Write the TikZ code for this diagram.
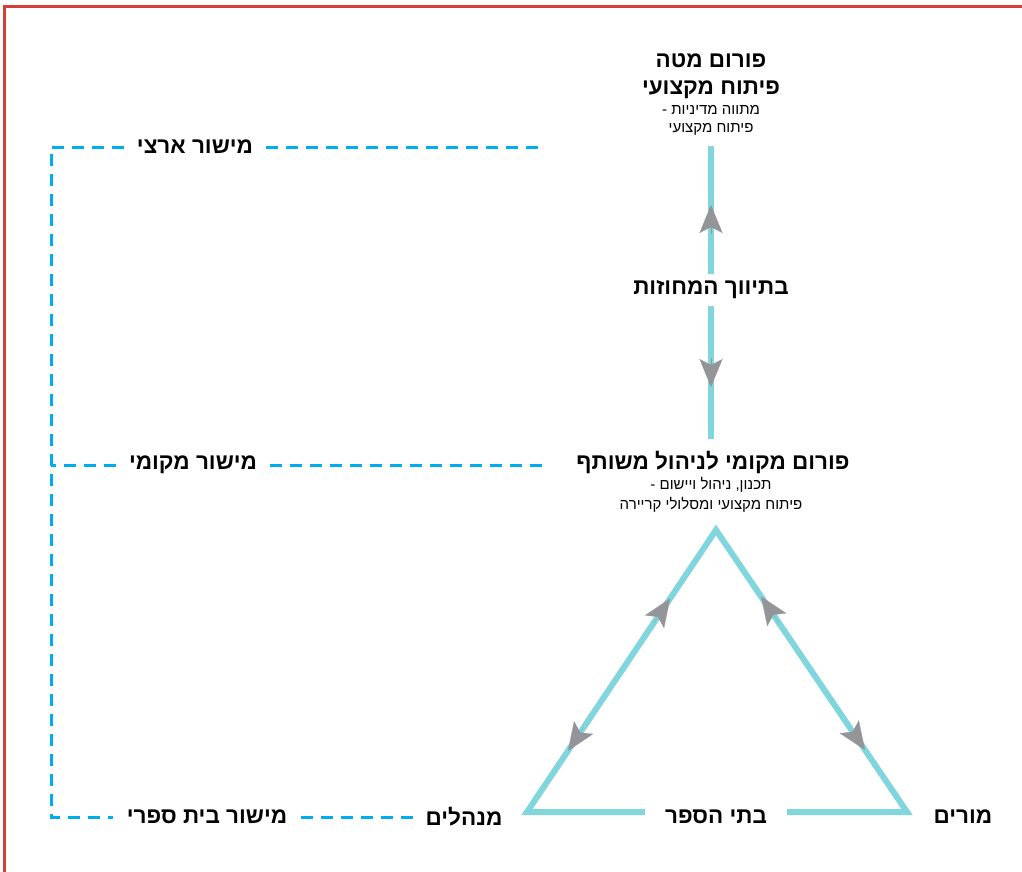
\documentclass[tikz,border=0pt]{standalone}
\usepackage{fontspec}
\newfontfamily\heb[Script=Hebrew]{Liberation Sans}
\TeXXeTstate=1
\usetikzlibrary{arrows.meta,calc}
\definecolor{framered}{RGB}{214,62,54}
\definecolor{tealline}{RGB}{128,214,220}
\definecolor{arrowgray}{RGB}{147,149,152}
\definecolor{dashblue}{RGB}{0,174,239}
\newcommand\heR[1]{\beginR #1\endR}
\begin{document}
\begin{tikzpicture}[x=1pt,y=-1pt,
  big/.style={font=\heb\bfseries\fontsize{22.5}{27}\selectfont, inner sep=0pt, align=center},
  small/.style={font=\heb\fontsize{15}{18}\selectfont, inner sep=0pt, align=center},
  tline/.style={draw=tealline, line width=6pt},
  dline/.style={draw=dashblue, line width=3pt, dash pattern=on 12pt off 8pt},
  gtip/.style={arrowgray, line width=0.2pt, -{Stealth[length=28pt,width=23pt,inset=6pt]}},
]
\useasboundingbox (0,0) rectangle (1022,872);
\fill[white] (0,0) rectangle (1022,872);
\draw[framered, line width=3pt] (4,873) -- (4,7) -- (1023,7);

% top forum
\node[big] (staffT) at (711,76) {\heR{פורום מטה}\\\heR{פיתוח מקצועי}};
\node[small] (staffS) at (711,120) {\heR{מתווה מדיניות -}\\\heR{פיתוח מקצועי}};
\node[big, inner ysep=7pt] (district) at (711,290) {\heR{בתיווך המחוזות}};
\node[big] (local) at (713,462) {\heR{פורום מקומי לניהול משותף}};
\node[small, font=\heb\fontsize{15}{20}\selectfont] (localS) at (711,495) {\heR{תכנון, ניהול ויישום -}\\\heR{פיתוח מקצועי ומסלולי קריירה}};

% vertical connector
\draw[tline, shorten <=11pt] (staffS.south) -- (district.north);
\draw[tline, shorten >=12pt] (district.south) -- (district.south |- local.north);
\draw[gtip] (711,234) -- (711,205);
\draw[gtip] (711,358) -- (711,387);

% triangle
\coordinate (A) at (716,530);
\coordinate (BL) at (527,812);
\coordinate (BR) at (907,812);
\node[big, inner xsep=20pt] (schools) at (716,817) {\heR{בתי הספר}};
\node[big] (principals) at (464,817) {\heR{מנהלים}};
\node[big] (teachers) at (963,817) {\heR{מורים}};
\draw[tline, line join=miter] (BL -| schools.west) -- (BL) -- (A) -- (BR) -- (BR -| schools.east);
\draw[gtip] ($(BL)!0.67!(A)$) -- ($(BL)!0.757!(A)$);
\draw[gtip] ($(BL)!0.30!(A)$) -- ($(BL)!0.217!(A)$);
\draw[gtip] ($(BR)!0.67!(A)$) -- ($(BR)!0.764!(A)$);
\draw[gtip] ($(BR)!0.30!(A)$) -- ($(BR)!0.22!(A)$);

% levels
\node[big, inner xsep=13pt] (natl) at (195,147) {\heR{מישור ארצי}};
\node[big, inner xsep=13pt] (locl) at (193,465) {\heR{מישור מקומי}};
\node[big, inner xsep=14pt] (schl) at (207,817) {\heR{מישור בית ספרי}};
\coordinate (nE) at (541,147);
\coordinate (lE) at (545,465);
\coordinate (c1) at (51,147);
\coordinate (c2) at (51,465);
\coordinate (c3) at (51,817);
\draw[dline] (natl.east) -- (nE);
\draw[dline] (locl.east) -- (lE);
\draw[dline, shorten >=12pt] (schl.east) -- (principals.west);
\draw[dline] (natl.west) -- (c1) -- (c3) -- (schl.west);
\draw[dline] (locl.west) -- (c2);
\end{tikzpicture}
\end{document}
